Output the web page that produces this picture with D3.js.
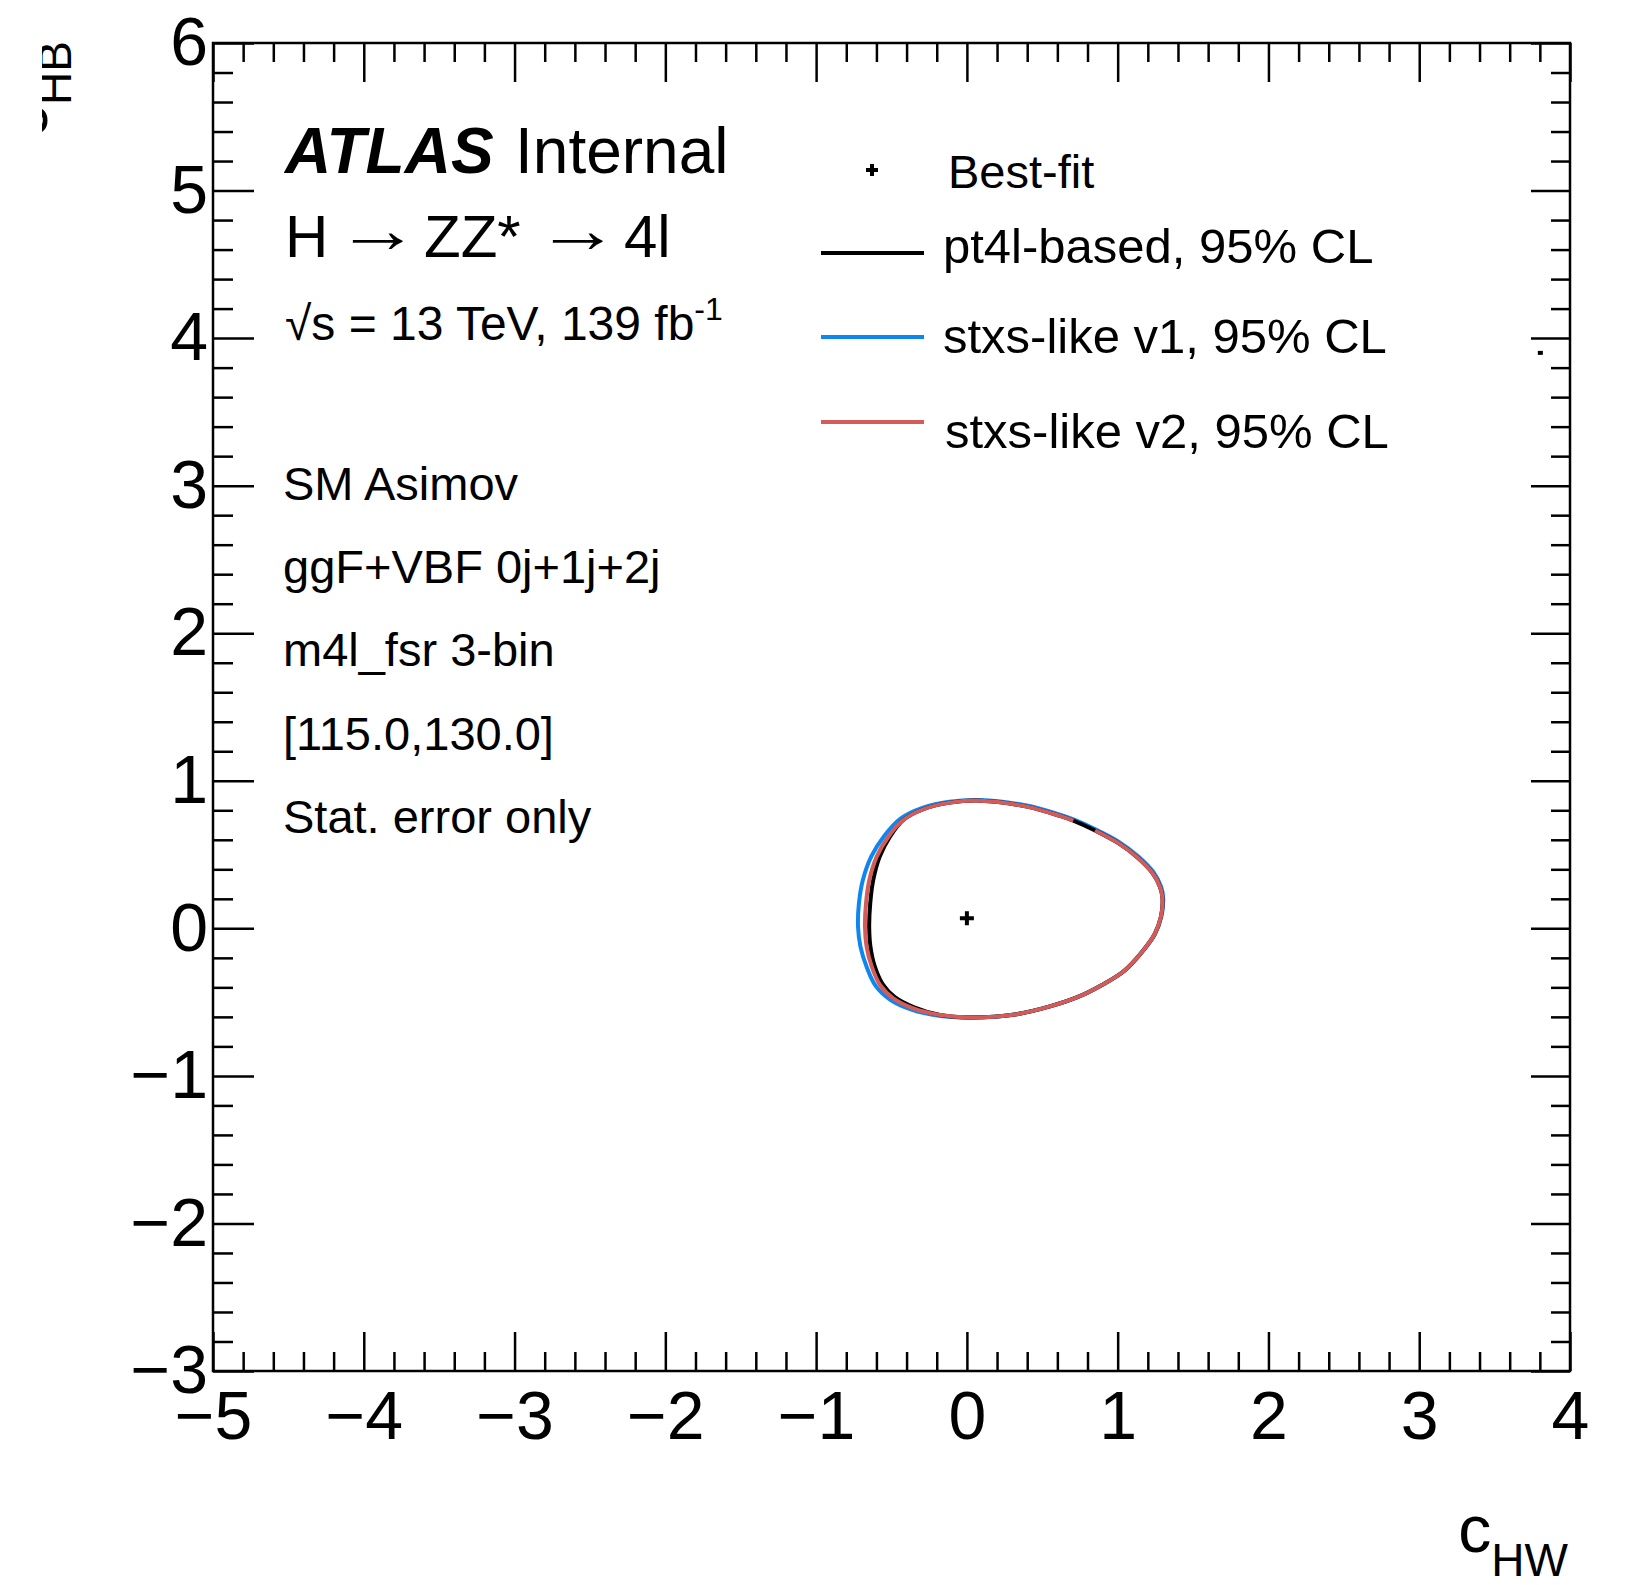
<!DOCTYPE html>
<html>
<head>
<meta charset="utf-8">
<script src="https://cdn.jsdelivr.net/npm/d3@7"></script>
<style>
  html, body { margin: 0; padding: 0; background: #ffffff; }
  svg { display: block; }
  text { font-family: "Liberation Sans", Arial, Helvetica, sans-serif; fill: #000; }
</style>
</head>
<body>
<svg id="chart" width="1625" height="1585"></svg>
<script>
// ---- axis ranges and tick labels ----
const xDomain = [-5, 4];
const yDomain = [-3, 6];
const xMajorTicks = [-5, -4, -3, -2, -1, 0, 1, 2, 3, 4];
const yMajorTicks = [-3, -2, -1, 0, 1, 2, 3, 4, 5, 6];
const minorStep = 0.2;

// ---- best-fit point (c_HW, c_HB) ----
const bestFit = [{ x: 0.0, y: 0.068 }];
const extraPoints = [{ x: 3.80, y: 3.90 }];

// ---- 95% CL contours, (c_HW, c_HB) ----
const pt4lContour = [
  [0.087, 0.865], [0.397, 0.825], [0.617, 0.762], [0.706, 0.730], [0.850, 0.663],
  [1.002, 0.579], [1.135, 0.477], [1.231, 0.375], [1.281, 0.280], [1.297, 0.206],
  [1.287, 0.079], [1.244, -0.042], [1.161, -0.160], [1.042, -0.289], [0.896, -0.384],
  [0.737, -0.465], [0.551, -0.529], [0.319, -0.584], [0.021, -0.604], [-0.178, -0.587],
  [-0.350, -0.535], [-0.478, -0.466], [-0.560, -0.376], [-0.612, -0.255], [-0.640, -0.122],
  [-0.648, 0.011], [-0.641, 0.170], [-0.621, 0.328], [-0.578, 0.486], [-0.510, 0.621],
  [-0.422, 0.734], [-0.289, 0.807], [-0.112, 0.852]
];
const stxsV1Contour = [
  [0.087, 0.870], [0.397, 0.832], [0.617, 0.770], [0.706, 0.738], [0.852, 0.672],
  [1.006, 0.588], [1.141, 0.484], [1.238, 0.380], [1.288, 0.282], [1.302, 0.206],
  [1.290, 0.079], [1.246, -0.042], [1.162, -0.160], [1.043, -0.289], [0.896, -0.384],
  [0.737, -0.465], [0.551, -0.529], [0.319, -0.584], [0.021, -0.604], [-0.185, -0.592],
  [-0.368, -0.550], [-0.508, -0.484], [-0.604, -0.392], [-0.664, -0.264], [-0.706, -0.124],
  [-0.722, 0.011], [-0.716, 0.170], [-0.690, 0.328], [-0.633, 0.490], [-0.547, 0.628],
  [-0.440, 0.744], [-0.300, 0.815], [-0.116, 0.858]
];
// open curve: the v2 contour has a small break near (0.78, 0.70)
const stxsV2Contour = [
  [0.850, 0.663], [1.002, 0.579], [1.135, 0.477], [1.231, 0.375], [1.281, 0.280],
  [1.297, 0.206], [1.287, 0.079], [1.244, -0.042], [1.161, -0.160], [1.042, -0.289],
  [0.896, -0.384], [0.737, -0.465], [0.551, -0.529], [0.319, -0.584], [0.021, -0.604],
  [-0.178, -0.587], [-0.355, -0.542], [-0.488, -0.474], [-0.576, -0.384], [-0.631, -0.260],
  [-0.665, -0.124], [-0.676, 0.011], [-0.669, 0.170], [-0.647, 0.328], [-0.598, 0.486],
  [-0.521, 0.621], [-0.422, 0.734], [-0.289, 0.807], [-0.112, 0.852], [0.087, 0.865],
  [0.397, 0.825], [0.617, 0.762], [0.706, 0.730]
];

const legendEntries = [
  { label: "pt4l-based, 95% CL", color: "#000000" },
  { label: "stxs-like v1, 95% CL", color: "#0d86f2" },
  { label: "stxs-like v2, 95% CL", color: "#d35b59" }
];
const infoLines = ["SM Asimov", "ggF+VBF 0j+1j+2j", "m4l_fsr 3-bin", "[115.0,130.0]", "Stat. error only"];

// ---- layout ----
const frame = { left: 213, right: 1570, top: 43, bottom: 1371 };
const svg = d3.select("#chart");

const x = d3.scaleLinear().domain(xDomain).range([frame.left, frame.right]);
const y = d3.scaleLinear().domain(yDomain).range([frame.bottom, frame.top]);

const xMinor = d3.range(xDomain[0], xDomain[1] + 1e-9, minorStep)
  .map(v => +v.toFixed(2)).filter(v => !xMajorTicks.includes(v));
const yMinor = d3.range(yDomain[0], yDomain[1] + 1e-9, minorStep)
  .map(v => +v.toFixed(2)).filter(v => !yMajorTicks.includes(v));

const fmt = v => (v < 0 ? "\u2212" + Math.abs(v) : String(v));
const MAJ = 39, MIN = 19;
const tickFont = 68;

function styleAxis(g) {
  g.select(".domain").remove();
  g.selectAll(".tick line").attr("stroke", "#000").attr("stroke-width", 2.5);
  g.selectAll(".tick text").attr("font-size", tickFont).attr("fill", "#000")
    .attr("font-family", '"Liberation Sans", Arial, sans-serif');
}

// bottom axis
svg.append("g").attr("transform", `translate(0,${frame.bottom})`)
  .call(d3.axisBottom(x).tickValues(xMajorTicks).tickFormat(fmt).tickSizeInner(-MAJ).tickSizeOuter(0).tickPadding(20))
  .call(styleAxis);
svg.append("g").attr("transform", `translate(0,${frame.bottom})`)
  .call(d3.axisBottom(x).tickValues(xMinor).tickFormat("").tickSizeInner(-MIN).tickSizeOuter(0))
  .call(styleAxis);
// top axis (ticks only)
svg.append("g").attr("transform", `translate(0,${frame.top})`)
  .call(d3.axisTop(x).tickValues(xMajorTicks).tickFormat("").tickSizeInner(-MAJ).tickSizeOuter(0))
  .call(styleAxis);
svg.append("g").attr("transform", `translate(0,${frame.top})`)
  .call(d3.axisTop(x).tickValues(xMinor).tickFormat("").tickSizeInner(-MIN).tickSizeOuter(0))
  .call(styleAxis);
// left axis
svg.append("g").attr("transform", `translate(${frame.left},0)`)
  .call(d3.axisLeft(y).tickValues(yMajorTicks).tickFormat(fmt).tickSizeInner(-MAJ - 2).tickSizeOuter(0).tickPadding(5))
  .call(styleAxis);
svg.append("g").attr("transform", `translate(${frame.left},0)`)
  .call(d3.axisLeft(y).tickValues(yMinor).tickFormat("").tickSizeInner(-MIN - 1).tickSizeOuter(0))
  .call(styleAxis);
// right axis (ticks only)
svg.append("g").attr("transform", `translate(${frame.right},0)`)
  .call(d3.axisRight(y).tickValues(yMajorTicks).tickFormat("").tickSizeInner(-MAJ).tickSizeOuter(0))
  .call(styleAxis);
svg.append("g").attr("transform", `translate(${frame.right},0)`)
  .call(d3.axisRight(y).tickValues(yMinor).tickFormat("").tickSizeInner(-MIN).tickSizeOuter(0))
  .call(styleAxis);

// frame
svg.append("rect")
  .attr("x", frame.left).attr("y", frame.top)
  .attr("width", frame.right - frame.left).attr("height", frame.bottom - frame.top)
  .attr("fill", "none").attr("stroke", "#000").attr("stroke-width", 2.5);

// ---- contours ----
const closedLine = d3.line().x(d => x(d[0])).y(d => y(d[1])).curve(d3.curveCatmullRomClosed.alpha(0.5));
const openLine = d3.line().x(d => x(d[0])).y(d => y(d[1])).curve(d3.curveCatmullRom.alpha(0.5));
const contours = svg.append("g").attr("fill", "none").attr("stroke-width", 4).attr("stroke-linejoin", "round");
contours.append("path").datum(stxsV1Contour).attr("d", closedLine).attr("stroke", legendEntries[1].color);
contours.append("path").datum(pt4lContour).attr("d", closedLine).attr("stroke", legendEntries[0].color);
contours.append("path").datum(stxsV2Contour).attr("d", openLine).attr("stroke", legendEntries[2].color);

// best-fit marker
function crossPath(cx, cy, r) {
  return `M${cx - r},${cy}H${cx + r}M${cx},${cy - r}V${cy + r}`;
}
svg.append("g").selectAll("path").data(bestFit).join("path")
  .attr("d", d => crossPath(x(d.x), y(d.y), 7))
  .attr("stroke", "#000").attr("stroke-width", 4).attr("fill", "none");
svg.append("g").selectAll("rect").data(extraPoints).join("rect")
  .attr("x", d => x(d.x) - 2).attr("y", d => y(d.y) - 2)
  .attr("width", 5).attr("height", 4).attr("fill", "#000");

// ---- ATLAS label and info text ----
const info = svg.append("g");
info.append("text").attr("x", 285).attr("y", 173).attr("font-size", 64)
  .attr("font-weight", "bold").attr("font-style", "italic").text("ATLAS");
info.append("text").attr("x", 515).attr("y", 173).attr("font-size", 64).text("Internal");

// process line: H -> ZZ* -> 4l, with wide arrows
const procY = 257;
info.append("text").attr("x", 285).attr("y", procY).attr("font-size", 60).text("H");
info.append("text").attr("x", 424).attr("y", procY).attr("font-size", 60).text("ZZ*");
info.append("text").attr("x", 624).attr("y", procY).attr("font-size", 60).text("4l");
[336, 536].forEach(ax => {
  info.append("text").attr("transform", `translate(${ax},${procY - 5}) scale(1.4,1.1)`)
    .attr("font-size", 60).text("\u2192");
});

const lumi = info.append("text").attr("x", 285).attr("y", 340).attr("font-size", 48);
lumi.append("tspan").text("\u221As = 13 TeV, 139 fb");
lumi.append("tspan").attr("font-size", 32).attr("dy", -20).text("-1");

info.selectAll("text.line").data(infoLines).join("text").attr("class", "line")
  .attr("x", 283).attr("y", (d, i) => 500 + i * 83.2).attr("font-size", 47).text(d => d);

// ---- legend ----
const legend = svg.append("g");
legend.append("path").attr("d", crossPath(872, 170, 6)).attr("stroke", "#000").attr("stroke-width", 4);
legend.append("text").attr("x", 948).attr("y", 188).attr("font-size", 47).text("Best-fit");
const lineYs = [253, 337, 422];
const textYs = [263, 353, 448];
const textXs = [943, 943, 945];
legendEntries.forEach((e, i) => {
  legend.append("line").attr("x1", 821).attr("x2", 924).attr("y1", lineYs[i]).attr("y2", lineYs[i])
    .attr("stroke", e.color).attr("stroke-width", 4);
  legend.append("text").attr("x", textXs[i]).attr("y", textYs[i]).attr("font-size", 49).text(e.label);
});

// ---- axis titles ----
const xt = svg.append("text").attr("x", 1568).attr("y", 1552).attr("text-anchor", "end").attr("font-size", 66);
xt.append("tspan").text("c");
xt.append("tspan").attr("font-size", 46).attr("dy", 24).text("HW");

svg.append("clipPath").attr("id", "ytitle-clip")
  .append("rect").attr("x", 42).attr("y", 0).attr("width", 200).attr("height", 400);
const yt = svg.append("g").attr("clip-path", "url(#ytitle-clip)")
  .append("text").attr("transform", "translate(47,41) rotate(-90)")
  .attr("text-anchor", "end").attr("font-size", 66);
yt.append("tspan").text("c");
yt.append("tspan").attr("font-size", 46).attr("dy", 24).text("HB");
</script>
</body>
</html>
